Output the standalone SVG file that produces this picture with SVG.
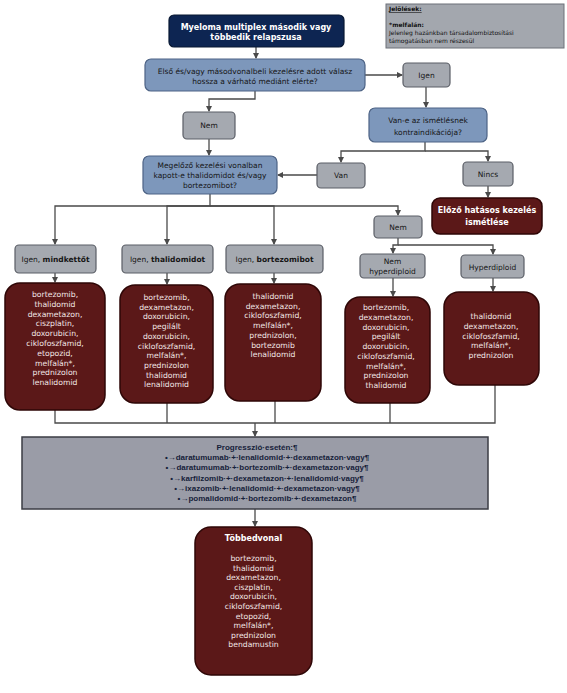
<svg xmlns="http://www.w3.org/2000/svg" width="567" height="693" viewBox="0 0 567 693">
<defs>
<marker id="arr" markerWidth="6" markerHeight="6" refX="5" refY="3" orient="auto" markerUnits="userSpaceOnUse">
<path d="M0,0 L6,3 L0,6 Z" fill="#4a4a4a"/>
</marker>
<style>
text{font-family:"DejaVu Sans",Verdana,sans-serif;text-anchor:middle}
.navy{fill:#0d2552;stroke:#081833;stroke-width:1.2}
.blue{fill:#7d97bb;stroke:#4d6385;stroke-width:1.2}
.gray{fill:#a5a9b0;stroke:#5a5e66;stroke-width:1.2}
.red{fill:#5b1818;stroke:#2e0606;stroke-width:1.5}
.wt{fill:#ffffff;font-weight:bold;font-size:8px}
.dk{fill:#161616;font-size:7.5px}
.rt{fill:#f2e6e6;font-size:7.7px}
.conn path{stroke:#4a4a4a;stroke-width:1.3;fill:none}
.pt{font-family:"Liberation Sans",Arial,sans-serif;font-weight:bold;font-size:8px;fill:#16213a}
.nt{font-size:6px;fill:#111;text-anchor:start}
</style>
</defs>
<rect width="567" height="693" fill="#ffffff"/>

<g id="connectors" class="conn">
<path d="M256,47 V58" marker-end="url(#arr)"/>
<path d="M365,75 H402" marker-end="url(#arr)"/>
<path d="M426,87 V107" marker-end="url(#arr)"/>
<path d="M255,91 V99 H209 V111" marker-end="url(#arr)"/>
<path d="M209,139 V155" marker-end="url(#arr)"/>
<path d="M425,142 V151 H341 V162" marker-end="url(#arr)"/>
<path d="M425,151 H488 V161" marker-end="url(#arr)"/>
<path d="M317,175 H278" marker-end="url(#arr)"/>
<path d="M488,186 V197" marker-end="url(#arr)"/>
<path d="M210,194 V206 H55 V244" marker-end="url(#arr)"/>
<path d="M210,206 H167 V244" marker-end="url(#arr)"/>
<path d="M210,206 H274 V244" marker-end="url(#arr)"/>
<path d="M210,206 H398 V215" marker-end="url(#arr)"/>
<path d="M398,238 V245 H393 V253" marker-end="url(#arr)"/>
<path d="M398,245 H493 V254" marker-end="url(#arr)"/>
<path d="M55,273 V282" marker-end="url(#arr)"/>
<path d="M167,273 V284" marker-end="url(#arr)"/>
<path d="M274,273 V283" marker-end="url(#arr)"/>
<path d="M393,278 V296" marker-end="url(#arr)"/>
<path d="M493,278 V291" marker-end="url(#arr)"/>
<path d="M55,410 V423 H495 V385"/>
<path d="M167,403 V423"/>
<path d="M275,401 V423"/>
<path d="M390,403 V423"/>
<path d="M255,423 V436" marker-end="url(#arr)"/>
<path d="M255,509 V526" marker-end="url(#arr)"/>
</g>

<g id="title">
<rect class="navy" x="169" y="15" width="175" height="32" rx="5"/>
<text class="wt" x="256" y="30">Myeloma multiplex második vagy</text>
<text class="wt" x="256" y="40">többedik relapszusa</text>
</g>

<g id="note">
<rect x="386" y="4" width="178" height="44" fill="#a3a7ae" stroke="#6c7079" stroke-width="1"/>
<text class="nt" x="389" y="11" font-weight="bold" text-decoration="underline">Jelölések:</text>
<text class="nt" x="389" y="27" font-weight="bold">*melfalán:</text>
<text class="nt" x="389" y="35">Jelenleg hazánkban társadalombiztosítási</text>
<text class="nt" x="389" y="43">támogatásban nem részesül</text>
</g>

<g id="q1">
<rect class="blue" x="145" y="59" width="220" height="32" rx="6"/>
<text class="dk" x="255" y="74">Első és/vagy másodvonalbeli kezelésre adott válasz</text>
<text class="dk" x="255" y="84">hossza a várható mediánt elérte?</text>
</g>

<g id="igen1">
<rect class="gray" x="403" y="63" width="47" height="24" rx="4"/>
<text class="dk" x="426.5" y="78">Igen</text>
</g>

<g id="nem1">
<rect class="gray" x="183" y="112" width="52" height="27" rx="4"/>
<text class="dk" x="209" y="128">Nem</text>
</g>

<g id="q2">
<rect class="blue" x="369" y="108" width="118" height="34" rx="6"/>
<text class="dk" x="428" y="123">Van-e az ismétlésnek</text>
<text class="dk" x="428" y="135">kontraindikációja?</text>
</g>

<g id="q3">
<rect class="blue" x="143" y="156" width="134" height="38" rx="6"/>
<text class="dk" x="210" y="168">Megelőző kezelési vonalban</text>
<text class="dk" x="210" y="178">kapott-e thalidomidot és/vagy</text>
<text class="dk" x="210" y="188">bortezomibot?</text>
</g>

<g id="van">
<rect class="gray" x="317" y="163" width="48" height="25" rx="4"/>
<text class="dk" x="341" y="178">Van</text>
</g>

<g id="nincs">
<rect class="gray" x="463" y="162" width="50" height="24" rx="4"/>
<text class="dk" x="488" y="177">Nincs</text>
</g>

<g id="repeat">
<rect class="red" x="432" y="198" width="110" height="36" rx="8"/>
<text class="wt" x="487" y="213">Előző hatásos kezelés</text>
<text class="wt" x="487" y="225">ismétlése</text>
</g>

<g id="igen-both">
<rect class="gray" x="15" y="245" width="81" height="28" rx="4"/>
<text class="dk" x="55.5" y="262">Igen, <tspan font-weight="bold">mindkettőt</tspan></text>
</g>

<g id="igen-thal">
<rect class="gray" x="122" y="245" width="91" height="28" rx="4"/>
<text class="dk" x="167.5" y="262">Igen, <tspan font-weight="bold">thalidomidot</tspan></text>
</g>

<g id="igen-bort">
<rect class="gray" x="226" y="245" width="97" height="28" rx="4"/>
<text class="dk" x="274.5" y="262">Igen, <tspan font-weight="bold">bortezomibot</tspan></text>
</g>

<g id="nem2">
<rect class="gray" x="374" y="216" width="48" height="22" rx="4"/>
<text class="dk" x="398" y="230">Nem</text>
</g>

<g id="nemhyper">
<rect class="gray" x="360" y="254" width="65" height="24" rx="4"/>
<text class="dk" x="392.5" y="263.5" font-size="7">Nem</text>
<text class="dk" x="392.5" y="274" font-size="7">hyperdiploid</text>
</g>

<g id="hyper">
<rect class="gray" x="461" y="255" width="63" height="23" rx="4"/>
<text class="dk" x="492.5" y="269.5" font-size="7">Hyperdiploid</text>
</g>

<g id="t1">
<rect class="red" x="5" y="283" width="100" height="127" rx="15"/>
<text class="rt" x="55" y="297">bortezomib,</text>
<text class="rt" x="55" y="306.8">thalidomid</text>
<text class="rt" x="55" y="316.6">dexametazon,</text>
<text class="rt" x="55" y="326.4">ciszplatin,</text>
<text class="rt" x="55" y="336.2">doxorubicin,</text>
<text class="rt" x="55" y="346">ciklofoszfamid,</text>
<text class="rt" x="55" y="355.8">etopozid,</text>
<text class="rt" x="55" y="365.6">melfalán*,</text>
<text class="rt" x="55" y="375.4">prednizolon</text>
<text class="rt" x="55" y="385.2">lenalidomid</text>
</g>

<g id="t2">
<rect class="red" x="120" y="285" width="93" height="118" rx="15"/>
<text class="rt" x="166.5" y="300">bortezomib,</text>
<text class="rt" x="166.5" y="309.7">dexametazon,</text>
<text class="rt" x="166.5" y="319.4">doxorubicin,</text>
<text class="rt" x="166.5" y="329.1">pegilált</text>
<text class="rt" x="166.5" y="338.8">doxorubicin,</text>
<text class="rt" x="166.5" y="348.5">ciklofoszfamid,</text>
<text class="rt" x="166.5" y="358.2">melfalán*,</text>
<text class="rt" x="166.5" y="367.9">prednizolon</text>
<text class="rt" x="166.5" y="377.6">thalidomid</text>
<text class="rt" x="166.5" y="387.3">lenalidomid</text>
</g>

<g id="t3">
<rect class="red" x="225" y="284" width="96" height="117" rx="15"/>
<text class="rt" x="273" y="299">thalidomid</text>
<text class="rt" x="273" y="308.7">dexametazon,</text>
<text class="rt" x="273" y="318.4">ciklofoszfamid,</text>
<text class="rt" x="273" y="328.1">melfalán*,</text>
<text class="rt" x="273" y="337.8">prednizolon,</text>
<text class="rt" x="273" y="347.5">bortezomib</text>
<text class="rt" x="273" y="357.2">lenalidomid</text>
</g>

<g id="t4">
<rect class="red" x="345" y="297" width="85" height="106" rx="15"/>
<text class="rt" x="386" y="310">bortezomib,</text>
<text class="rt" x="386" y="319.75">dexametazon,</text>
<text class="rt" x="386" y="329.5">doxorubicin,</text>
<text class="rt" x="386" y="339.25">pegilált</text>
<text class="rt" x="386" y="349">doxorubicin,</text>
<text class="rt" x="386" y="358.75">ciklofoszfamid,</text>
<text class="rt" x="386" y="368.5">melfalán*,</text>
<text class="rt" x="386" y="378.25">prednizolon</text>
<text class="rt" x="386" y="388">thalidomid</text>
</g>

<g id="t5">
<rect class="red" x="444" y="292" width="95" height="93" rx="15"/>
<text class="rt" x="491" y="319">thalidomid</text>
<text class="rt" x="491" y="328.75">dexametazon,</text>
<text class="rt" x="491" y="338.5">ciklofoszfamid,</text>
<text class="rt" x="491" y="348.25">melfalán*,</text>
<text class="rt" x="491" y="358">prednizolon</text>
</g>

<g id="progression">
<rect x="22" y="437" width="466" height="72" fill="#9a9ca7" stroke="#3b3d44" stroke-width="1.5"/>
<text class="pt" x="257" y="450">Progresszió·esetén:¶</text>
<text class="pt" x="267" y="460.2">•→daratumumab·+·lenalidomid·+·dexametazon·vagy¶</text>
<text class="pt" x="267" y="470.4">•→daratumumab·+·bortezomib·+·dexametazon·vagy¶</text>
<text class="pt" x="267" y="480.6">•→karfilzomib·+·dexametazon·+·lenalidomid·vagy¶</text>
<text class="pt" x="267" y="490.8">•→ixazomib·+·lenalidomid·+·dexametazon·vagy¶</text>
<text class="pt" x="267" y="501">•→pomalidomid·+·bortezomib·+·dexametazon¶</text>
</g>

<g id="multiline">
<rect class="red" x="195" y="527" width="117" height="148" rx="16"/>
<text class="wt" x="253.5" y="541">Többedvonal</text>
<text class="rt" x="253.5" y="561">bortezomib,</text>
<text class="rt" x="253.5" y="570.6">thalidomid</text>
<text class="rt" x="253.5" y="580.2">dexametazon,</text>
<text class="rt" x="253.5" y="589.8">ciszplatin,</text>
<text class="rt" x="253.5" y="599.4">doxorubicin,</text>
<text class="rt" x="253.5" y="609">ciklofoszfamid,</text>
<text class="rt" x="253.5" y="618.6">etopozid,</text>
<text class="rt" x="253.5" y="628.2">melfalán*,</text>
<text class="rt" x="253.5" y="637.8">prednizolon</text>
<text class="rt" x="253.5" y="647.4">bendamustin</text>
</g>
</svg>
